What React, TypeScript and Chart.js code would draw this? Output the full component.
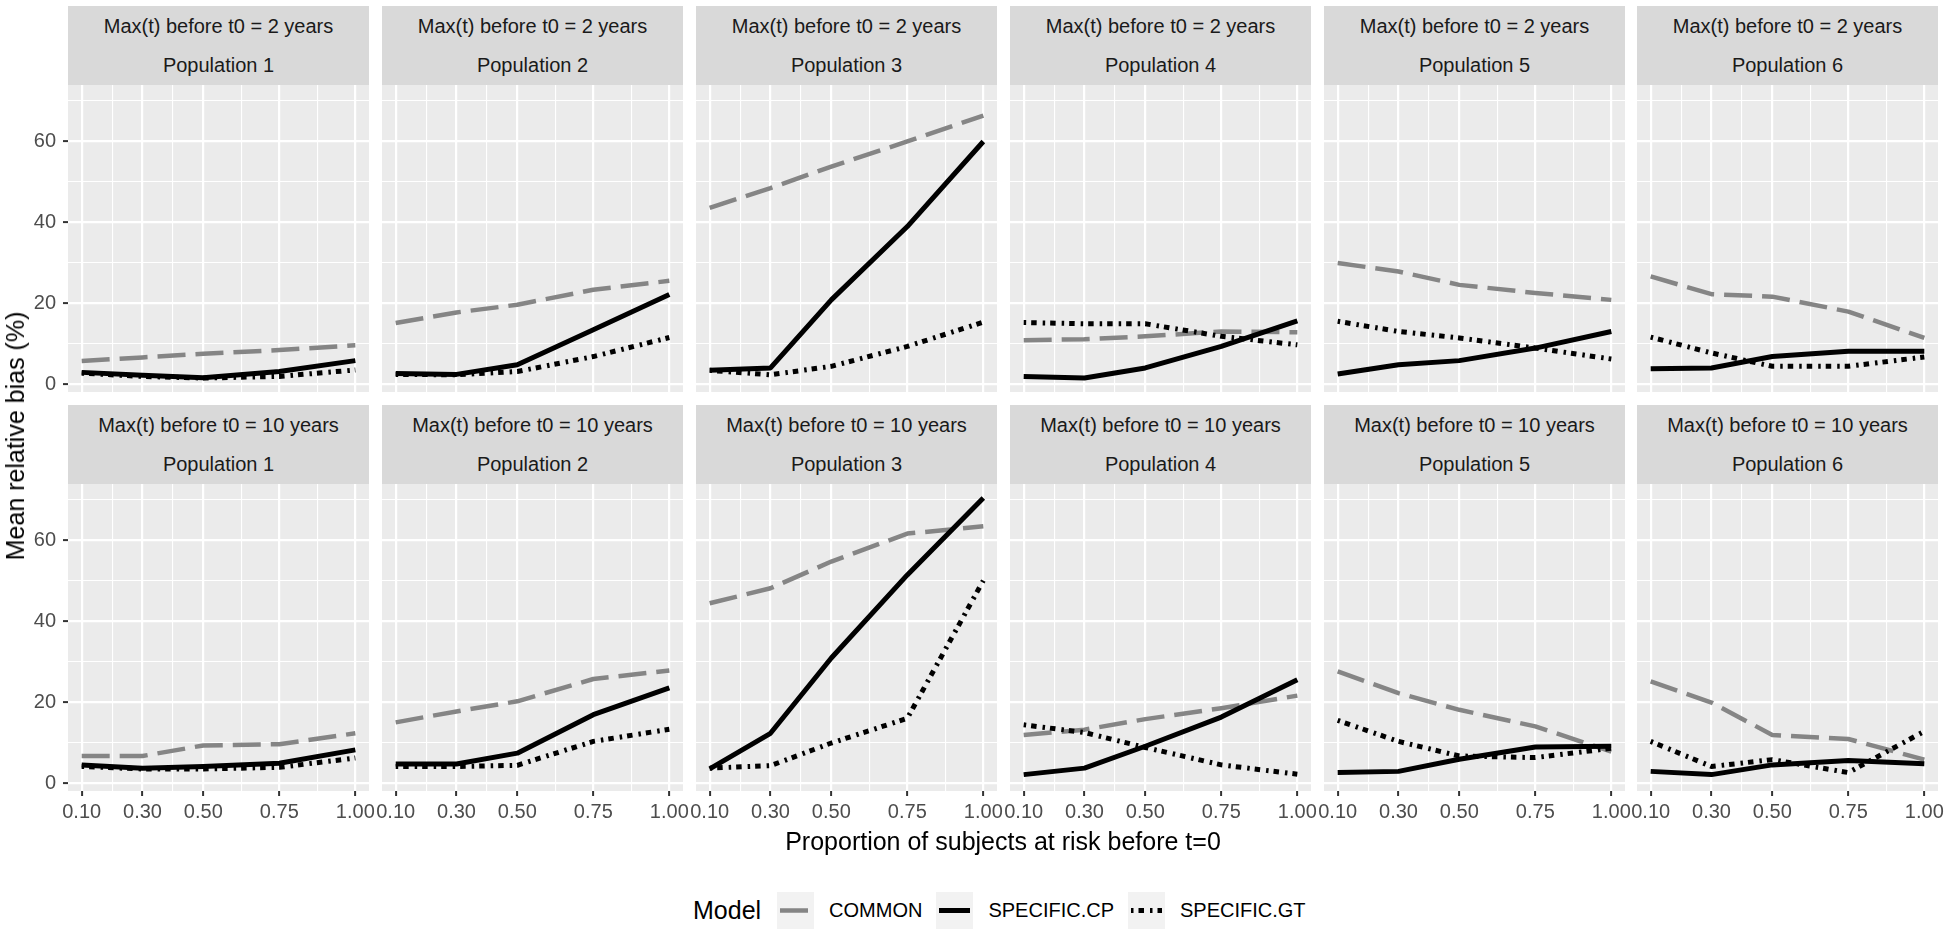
import React, { useEffect, useRef } from 'react';
import { Chart, registerables } from 'chart.js';

Chart.register(...registerables);

// ---------------- data ----------------
const PROPORTIONS = [0.1, 0.3, 0.5, 0.75, 1.0];
const X_TICK_LABELS = ['0.10', '0.30', '0.50', '0.75', '1.00'];
const X_MINOR_BREAKS = [0.2, 0.4, 0.625, 0.875];
const Y_MAJOR_BREAKS = [0, 20, 40, 60];
const Y_MINOR_BREAKS = [10, 30, 50, 70];
const POPULATIONS = ['Population 1', 'Population 2', 'Population 3', 'Population 4', 'Population 5', 'Population 6'];
const MAX_T_LABELS = ['Max(t) before t0 = 2 years', 'Max(t) before t0 = 10 years'];
const MODELS = ['COMMON', 'SPECIFIC.CP', 'SPECIFIC.GT'];

// Max(t) before t0 = 2 years (one row per population)
const COMMON_2Y = [
  [5.7, 6.6, 7.5, 8.4, 9.6],
  [15.1, 17.7, 19.6, 23.3, 25.5],
  [43.5, 48.4, 53.7, 59.9, 66.3],
  [10.8, 11.1, 11.8, 13.0, 12.8],
  [29.9, 27.8, 24.5, 22.5, 20.8],
  [26.6, 22.2, 21.6, 17.9, 11.4],
];
const CP_2Y = [
  [2.9, 2.2, 1.6, 3.1, 5.8],
  [2.6, 2.4, 4.8, 13.4, 22.1],
  [3.4, 4.0, 20.8, 38.9, 59.9],
  [1.9, 1.5, 4.0, 9.3, 15.6],
  [2.5, 4.8, 5.8, 8.9, 13.0],
  [3.8, 4.0, 6.8, 8.1, 8.1],
];
const GT_2Y = [
  [2.7, 1.9, 1.5, 1.9, 3.5],
  [2.4, 2.3, 3.1, 6.8, 11.5],
  [3.4, 2.3, 4.4, 9.3, 15.3],
  [15.2, 14.9, 14.9, 11.8, 9.7],
  [15.5, 13.0, 11.4, 8.9, 6.2],
  [11.6, 7.7, 4.4, 4.4, 6.7],
];

// Max(t) before t0 = 10 years
const COMMON_10Y = [
  [6.7, 6.7, 9.3, 9.6, 12.3],
  [15.0, 17.7, 20.2, 25.7, 27.8],
  [44.4, 48.1, 54.7, 61.6, 63.4],
  [11.9, 13.2, 15.8, 18.5, 21.6],
  [27.6, 22.2, 18.1, 14.0, 7.8],
  [25.1, 19.9, 11.9, 10.9, 5.8],
];
const CP_10Y = [
  [4.5, 3.7, 4.1, 4.9, 8.2],
  [4.7, 4.7, 7.4, 16.9, 23.5],
  [3.5, 12.3, 30.9, 51.4, 70.4],
  [2.1, 3.7, 9.1, 16.3, 25.5],
  [2.6, 2.9, 5.9, 8.9, 9.1],
  [2.9, 2.1, 4.5, 5.6, 4.8],
];
const GT_10Y = [
  [4.1, 3.5, 3.5, 3.9, 6.2],
  [4.1, 4.1, 4.4, 10.3, 13.3],
  [3.7, 4.3, 9.9, 16.0, 50.0],
  [14.4, 12.5, 8.8, 4.5, 2.2],
  [15.5, 10.3, 6.7, 6.3, 8.6],
  [10.3, 4.1, 5.8, 2.6, 12.8],
];

const ROWS = [
  { common: COMMON_2Y, cp: CP_2Y, gt: GT_2Y },
  { common: COMMON_10Y, cp: CP_10Y, gt: GT_10Y },
];

// ---------------- scale limits (ggplot style 5% expansion) ----------------
const ALL_VALUES = [COMMON_2Y, CP_2Y, GT_2Y, COMMON_10Y, CP_10Y, GT_10Y].flat(2);
const Y_DATA_MIN = Math.min(...ALL_VALUES);
const Y_DATA_MAX = Math.max(...ALL_VALUES);
const Y_MIN = Y_DATA_MIN - 0.05 * (Y_DATA_MAX - Y_DATA_MIN);
const Y_MAX = Y_DATA_MAX + 0.05 * (Y_DATA_MAX - Y_DATA_MIN);
const X_MIN = 0.1 - 0.05 * 0.9;
const X_MAX = 1.0 + 0.05 * 0.9;

const X_BREAKS = [...PROPORTIONS, ...X_MINOR_BREAKS].sort((a, b) => a - b);
const Y_BREAKS = [...Y_MAJOR_BREAKS, ...Y_MINOR_BREAKS].sort((a, b) => a - b);

// ---------------- styling ----------------
const FONT = "'Liberation Sans', Arial, Helvetica, sans-serif";
const COMMON_COLOR = '#858585';
const LINE_DASH_COMMON = [28, 10];
const LINE_DASH_GT = [2.5, 5, 5.5, 6];

const PLOT_LEFT0 = 68.3;
const PLOT_PITCH = 313.8;
const PLOT_W = 301;
const PLOT_H = 307;
const STRIP_TOPS = [6, 405];
const STRIP_H = 79;
const PAD = 24;

const isMajorX = (v: number) => PROPORTIONS.some((p) => Math.abs(p - v) < 1e-9);
const isMajorY = (v: number) => Y_MAJOR_BREAKS.some((p) => Math.abs(p - v) < 1e-9);

const panelBg = {
  id: 'panelBg',
  beforeDraw(chart: any) {
    const { ctx, chartArea: a } = chart;
    ctx.save();
    ctx.fillStyle = '#EBEBEB';
    ctx.fillRect(a.left, a.top, a.right - a.left, a.bottom - a.top);
    ctx.restore();
  },
};

function Panel({ row, col }: { row: number; col: number }) {
  const ref = useRef<HTMLCanvasElement>(null);
  const plotLeft = Math.round(PLOT_LEFT0 + col * PLOT_PITCH);
  const plotTop = STRIP_TOPS[row] + STRIP_H;
  const leftSpace = col === 0 ? plotLeft : PAD;
  const bottomSpace = row === 1 ? 40 : PAD;
  const cw = leftSpace + PLOT_W + PAD;
  const ch = PAD + PLOT_H + bottomSpace;

  useEffect(() => {
    const data = ROWS[row];
    const toPts = (arr: number[]) => PROPORTIONS.map((x, i) => ({ x, y: arr[i] }));
    const chart = new Chart(ref.current as HTMLCanvasElement, {
      type: 'line',
      data: {
        datasets: [
          {
            label: MODELS[0],
            data: toPts(data.common[col]),
            borderColor: COMMON_COLOR,
            borderWidth: 4.5,
            borderDash: LINE_DASH_COMMON,
            borderCapStyle: 'butt',
            borderJoinStyle: 'round',
            pointRadius: 0,
            tension: 0,
            order: 3,
          },
          {
            label: MODELS[1],
            data: toPts(data.cp[col]),
            borderColor: '#000000',
            borderWidth: 5,
            borderCapStyle: 'butt',
            borderJoinStyle: 'round',
            pointRadius: 0,
            tension: 0,
            order: 2,
          },
          {
            label: MODELS[2],
            data: toPts(data.gt[col]),
            borderColor: '#000000',
            borderWidth: 5,
            borderDash: LINE_DASH_GT,
            borderCapStyle: 'butt',
            borderJoinStyle: 'round',
            pointRadius: 0,
            tension: 0,
            order: 1,
          },
        ],
      },
      options: {
        animation: false,
        responsive: false,
        maintainAspectRatio: false,
        devicePixelRatio: 1,
        events: [],
        layout: {
          padding: { left: col === 0 ? 0 : PAD, right: PAD, top: PAD, bottom: row === 1 ? 0 : PAD },
        },
        plugins: { legend: { display: false }, tooltip: { enabled: false }, title: { display: false } },
        scales: {
          x: {
            type: 'linear',
            min: X_MIN,
            max: X_MAX,
            bounds: 'data',
            afterBuildTicks: (scale: any) => {
              scale.ticks = X_BREAKS.map((v) => ({ value: v }));
            },
            afterFit: (scale: any) => {
              scale.height = row === 1 ? 40 : 0;
            },
            border: { display: false },
            grid: {
              color: '#FFFFFF',
              lineWidth: (ctx: any) => (ctx.tick && isMajorX(ctx.tick.value) ? 2.2 : 1.1),
              drawTicks: row === 1,
              tickLength: 5,
              tickWidth: 2,
              tickColor: (ctx: any) => (ctx.tick && isMajorX(ctx.tick.value) ? '#333333' : 'rgba(0,0,0,0)'),
            },
            ticks: {
              display: row === 1,
              autoSkip: false,
              maxRotation: 0,
              minRotation: 0,
              padding: 4,
              color: '#4D4D4D',
              font: { family: FONT, size: 20 },
              callback: (value: any) => {
                const idx = PROPORTIONS.findIndex((p) => Math.abs(p - Number(value)) < 1e-9);
                return idx >= 0 ? X_TICK_LABELS[idx] : '';
              },
            },
          },
          y: {
            type: 'linear',
            min: Y_MIN,
            max: Y_MAX,
            bounds: 'data',
            afterBuildTicks: (scale: any) => {
              scale.ticks = Y_BREAKS.map((v) => ({ value: v }));
            },
            afterFit: (scale: any) => {
              scale.width = col === 0 ? plotLeft : 0;
            },
            border: { display: false },
            grid: {
              color: '#FFFFFF',
              lineWidth: (ctx: any) => (ctx.tick && isMajorY(ctx.tick.value) ? 2.2 : 1.1),
              drawTicks: col === 0,
              tickLength: 5,
              tickWidth: 2,
              tickColor: (ctx: any) => (ctx.tick && isMajorY(ctx.tick.value) ? '#333333' : 'rgba(0,0,0,0)'),
            },
            ticks: {
              display: col === 0,
              autoSkip: false,
              padding: 7,
              color: '#4D4D4D',
              font: { family: FONT, size: 20 },
              callback: (value: any) => (isMajorY(Number(value)) ? String(Math.round(Number(value))) : ''),
            },
          },
        },
      },
      plugins: [panelBg],
    } as any);
    return () => chart.destroy();
  }, [row, col]);

  return (
    <canvas
      ref={ref}
      width={cw}
      height={ch}
      style={{ position: 'absolute', left: plotLeft - leftSpace, top: plotTop - PAD, width: cw, height: ch }}
    />
  );
}

function Strip({ row, col }: { row: number; col: number }) {
  const left = Math.round(PLOT_LEFT0 + col * PLOT_PITCH);
  const top = STRIP_TOPS[row];
  const base: React.CSSProperties = {
    position: 'absolute',
    left,
    width: PLOT_W,
    background: '#D9D9D9',
    color: '#1A1A1A',
    fontFamily: FONT,
    fontSize: 20,
    textAlign: 'center',
    whiteSpace: 'nowrap',
  };
  return (
    <>
      <div style={{ ...base, top, height: 40, lineHeight: '40px' }}>{MAX_T_LABELS[row]}</div>
      <div style={{ ...base, top: top + 40, height: STRIP_H - 40, lineHeight: `${STRIP_H - 40}px` }}>{POPULATIONS[col]}</div>
    </>
  );
}

function LegendKey({ kind }: { kind: number }) {
  const stroke = kind === 0 ? COMMON_COLOR : '#000000';
  const dash = kind === 0 ? LINE_DASH_COMMON.join(' ') : kind === 2 ? LINE_DASH_GT.join(' ') : undefined;
  return (
    <div style={{ width: 37, height: 37, background: '#F2F2F2' }}>
      <svg width={37} height={37} style={{ display: 'block' }}>
        <line x1={3} y1={18.5} x2={34} y2={18.5} stroke={stroke} strokeWidth={kind === 0 ? 4.5 : 5} strokeDasharray={dash} strokeLinecap="butt" />
      </svg>
    </div>
  );
}

export default function App() {
  const panels: JSX.Element[] = [];
  const strips: JSX.Element[] = [];
  for (let r = 0; r < 2; r++) {
    for (let c = 0; c < 6; c++) {
      panels.push(<Panel key={`p${r}${c}`} row={r} col={c} />);
      strips.push(<Strip key={`s${r}${c}`} row={r} col={c} />);
    }
  }
  return (
    <div style={{ position: 'absolute', left: 0, top: 0, width: 1945, height: 932, background: '#FFFFFF', overflow: 'hidden' }}>
      {panels}
      {strips}
      <div
        style={{
          position: 'absolute',
          left: 503,
          width: 1000,
          top: 826,
          height: 30,
          lineHeight: '30px',
          textAlign: 'center',
          fontFamily: FONT,
          fontSize: 25,
          color: '#000000',
          whiteSpace: 'nowrap',
        }}
      >
        Proportion of subjects at risk before t=0
      </div>
      <div
        style={{
          position: 'absolute',
          left: 15,
          top: 436,
          transform: 'translate(-50%, -50%) rotate(-90deg)',
          fontFamily: FONT,
          fontSize: 25,
          color: '#000000',
          whiteSpace: 'nowrap',
          lineHeight: '30px',
        }}
      >
        Mean relative bias (%)
      </div>
      <div
        style={{
          position: 'absolute',
          left: 693,
          top: 892,
          height: 37,
          display: 'flex',
          alignItems: 'center',
          fontFamily: FONT,
          color: '#000000',
          whiteSpace: 'nowrap',
        }}
      >
        <span style={{ fontSize: 25, marginRight: 16 }}>Model</span>
        {MODELS.map((m, i) => (
          <React.Fragment key={m}>
            <LegendKey kind={i} />
            <span style={{ fontSize: 20, marginLeft: 15, marginRight: 14 }}>{m}</span>
          </React.Fragment>
        ))}
      </div>
    </div>
  );
}
